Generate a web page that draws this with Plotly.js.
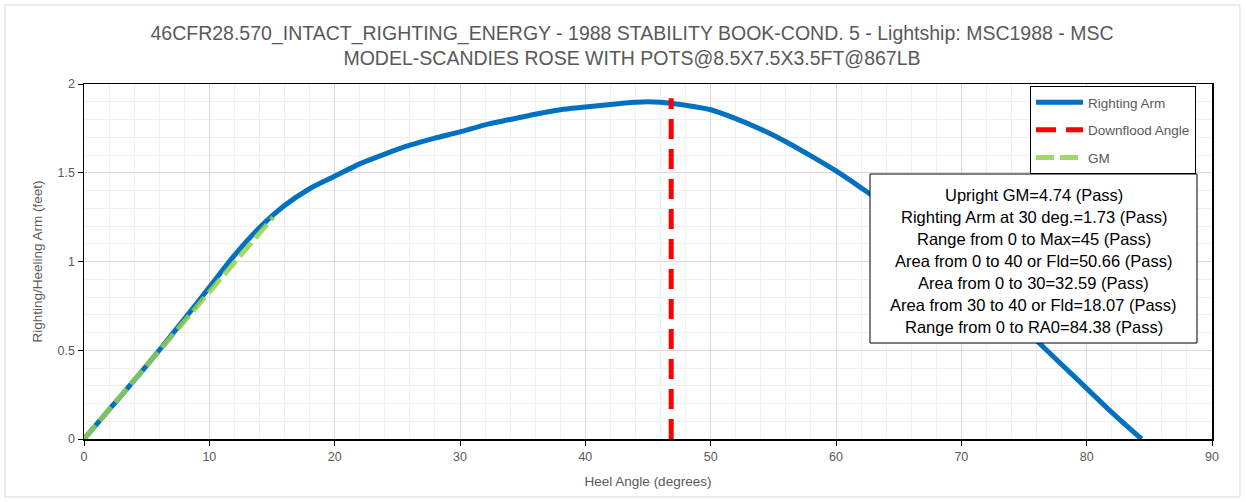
<!DOCTYPE html>
<html>
<head>
<meta charset="utf-8">
<script src="https://cdn.plot.ly/plotly-3.0.1.min.js"></script>
<style>
html,body{margin:0;padding:0;background:#fff;}
#chart{width:1246px;height:502px;}
</style>
</head>
<body>
<div id="chart"></div>
<script>
// ---- data ----
const heelAngle = [0, 2, 4, 6, 8, 10, 12, 14, 16, 18, 20, 22, 24, 26, 28, 30, 32, 34, 36, 38, 40, 42, 44, 45, 46, 48, 50, 52, 54, 56, 58, 60, 62, 64, 66, 68, 70, 72, 74, 76, 78, 80, 82, 84.38];
const rightingArm = [0, 0.165, 0.33, 0.50, 0.675, 0.855, 1.035, 1.19, 1.315, 1.41, 1.48, 1.55, 1.605, 1.655, 1.695, 1.73, 1.77, 1.80, 1.83, 1.855, 1.87, 1.885, 1.897, 1.90, 1.897, 1.88, 1.855, 1.805, 1.745, 1.675, 1.595, 1.51, 1.415, 1.315, 1.195, 1.075, 0.95, 0.82, 0.69, 0.555, 0.42, 0.285, 0.15, 0];
const downfloodX = [46.85, 46.85];
const downfloodY = [0, 1.92];
const gmX = [0, 15.1];
const gmY = [0, 1.25];
const seriesNames = ["Righting Arm", "Downflood Angle", "GM"];
const titleLines = ["46CFR28.570_INTACT_RIGHTING_ENERGY - 1988 STABILITY BOOK-COND. 5 - Lightship: MSC1988 - MSC", "MODEL-SCANDIES ROSE WITH POTS@8.5X7.5X3.5FT@867LB"];
const resultLines = [
  "Upright GM=4.74 (Pass)",
  "Righting Arm at 30 deg.=1.73 (Pass)",
  "Range from 0 to Max=45 (Pass)",
  "Area from 0 to 40 or Fld=50.66 (Pass)",
  "Area from 0 to 30=32.59 (Pass)",
  "Area from 30 to 40 or Fld=18.07 (Pass)",
  "Range from 0 to RA0=84.38 (Pass)"
];
const xTitle = "Heel Angle (degrees)";
const yTitle = "Righting/Heeling Arm (feet)";

// ---- geometry (pixels) ----
const W = 1246, H = 502;
const L = 84, R = 1212, T = 84, B = 439;
const pw = R - L, ph = B - T;
const px = v => (v - L) / pw;
const py = v => (B - v) / ph;

const font = "'Liberation Sans', Arial, sans-serif";

const traces = [
  {x: heelAngle, y: rightingArm, name: seriesNames[0], mode: 'lines', legendgroup: 'a',
   line: {color: '#0070C0', width: 5, shape: 'spline', smoothing: 0.8}},
  {x: downfloodX, y: downfloodY, name: seriesNames[1], mode: 'lines', legendgroup: 'b',
   line: {color: '#FF0000', width: 5, dash: '20px,10px'}},
  {x: gmX, y: gmY, name: seriesNames[2], mode: 'lines', legendgroup: 'c', opacity: 0.85,
   line: {color: '#92D050', width: 5, dash: '18px,6px'}}
];

const lineCenters = [195, 216.8, 239, 260.8, 283, 305, 326.8];
const annotations = resultLines.map((t, i) => ({
  text: t, xref: 'paper', yref: 'paper', x: px(1033.5), y: py(lineCenters[i]),
  xanchor: 'center', yanchor: 'middle', showarrow: false,
  font: {family: font, size: 16.5, color: '#000'}
}));

const layout = {
  width: W, height: H,
  margin: {l: L, r: W - R, t: T, b: H - B, pad: 0},
  paper_bgcolor: '#fff', plot_bgcolor: '#fff',
  title: {
    text: titleLines.join('<br>'),
    x: 632 / W, xref: 'container', xanchor: 'center',
    y: 1 - 22 / H, yref: 'container', yanchor: 'top',
    font: {family: font, size: 19.5, color: '#595959'}
  },
  showlegend: true,
  legend: {
    x: px(1030), y: py(86), xanchor: 'left', yanchor: 'top',
    bordercolor: '#000', borderwidth: 1, bgcolor: '#fff',
    traceorder: 'grouped', tracegroupgap: 7, itemwidth: 47,
    font: {family: font, size: 13.5, color: '#595959'}
  },
  xaxis: {
    range: [0, 90], dtick: 10, tick0: 0,
    showgrid: true, gridcolor: '#d9d9d9', gridwidth: 1,
    minor: {dtick: 2, showgrid: true, gridcolor: '#f0f0f0', gridwidth: 1},
    showline: true, linecolor: '#000', linewidth: 1.5, mirror: true,
    ticks: 'outside', ticklen: 5, tickcolor: '#000',
    zeroline: false,
    tickfont: {family: font, size: 12.5, color: '#595959'},
    title: {text: xTitle, font: {family: font, size: 13.5, color: '#595959'}, standoff: 14}
  },
  yaxis: {
    range: [0, 2], dtick: 0.5, tick0: 0,
    showgrid: true, gridcolor: '#d9d9d9', gridwidth: 1,
    minor: {dtick: 0.1, showgrid: true, gridcolor: '#f0f0f0', gridwidth: 1},
    showline: true, linecolor: '#000', linewidth: 1.5, mirror: true,
    ticks: 'outside', ticklen: 5, tickcolor: '#000',
    zeroline: false,
    tickfont: {family: font, size: 12.5, color: '#595959'},
    title: {text: yTitle, font: {family: font, size: 13.5, color: '#595959'}, standoff: 12}
  },
  shapes: [
    {type: 'rect', xref: 'paper', yref: 'paper', layer: 'below',
     x0: px(5), x1: px(1240), y0: py(497), y1: py(5),
     line: {color: '#d9d9d9', width: 1}, fillcolor: 'rgba(0,0,0,0)'},
    {type: 'rect', xref: 'paper', yref: 'paper', layer: 'above',
     x0: px(870), x1: px(1197), y0: py(343), y1: py(174),
     line: {color: '#000', width: 1}, fillcolor: '#fff'}
  ],
  annotations: annotations
};

Plotly.newPlot('chart', traces, layout, {displayModeBar: false, staticPlot: true}).then(gd => {
  // nudge the title block down to match the reference placement
  const t = gd.querySelector('.g-gtitle .gtitle');
  if (t) {
    const bb = t.getBBox();
    const dy = 22 - bb.y;
    t.setAttribute('transform', 'translate(0,' + dy + ')');
  }
});
</script>
</body>
</html>
